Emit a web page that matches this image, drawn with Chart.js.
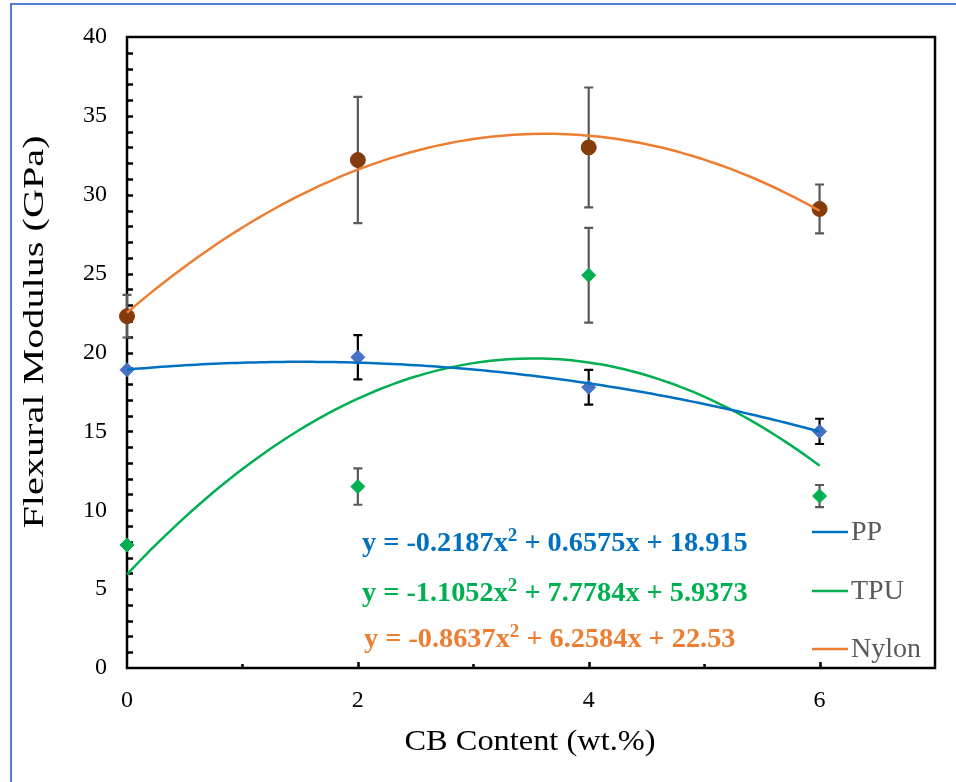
<!DOCTYPE html>
<html>
<head>
<meta charset="utf-8">
<script src="https://cdn.jsdelivr.net/npm/chart.js@4.4.1/dist/chart.umd.min.js"></script>
<style>
  html, body { margin: 0; padding: 0; background: #ffffff; }
  #wrap { position: relative; width: 956px; height: 782px; }
</style>
</head>
<body>
<div id="wrap"><canvas id="chart" width="956" height="782"></canvas></div>
<script>
// CB content (wt.%) at which each material was tested
const cbContent = [0, 2, 4, 6];

// Flexural modulus (GPa) and standard deviations
const ppValues = [18.9, 19.7, 17.8, 15.0];
const ppErrors = [0, 1.4, 1.1, 0.8];
const tpuValues = [7.8, 11.5, 24.9, 10.9];
const tpuErrors = [0, 1.15, 3.0, 0.7];
const nylonValues = [22.3, 32.2, 33.0, 29.1];
const nylonErrors = [1.35, 4.0, 3.8, 1.55];

// Quadratic trend coefficients [a, b, c] for y = a x^2 + b x + c
const ppFit = [-0.2187, 0.6575, 18.915];
const tpuFit = [-1.1052, 7.7784, 5.9373];
const nylonFit = [-0.8637, 6.2584, 22.53];

// Equation labels
const ppEquation = ['y = -0.2187x', '2', ' + 0.6575x + 18.915'];
const tpuEquation = ['y = -1.1052x', '2', ' + 7.7784x + 5.9373'];
const nylonEquation = ['y = -0.8637x', '2', ' + 6.2584x + 22.53'];

const seriesNames = ['PP', 'TPU', 'Nylon'];
const xTitle = 'CB Content (wt.%)';
const yTitle = 'Flexural Modulus (GPa)';

const SERIF = '"Liberation Serif", "Times New Roman", serif';

function points(xs, ys) {
  return xs.map((x, i) => ({ x: x, y: ys[i] }));
}
function trendPoints(coef) {
  const pts = [];
  for (let i = 0; i <= 60; i++) {
    const x = i / 10;
    pts.push({ x: x, y: coef[0] * x * x + coef[1] * x + coef[2] });
  }
  return pts;
}

const markerSets = [
  { label: 'PP pts', data: points(cbContent, ppValues), errors: ppErrors, errColor: '#000000',
    pointStyle: 'rectRot', pointRadius: 7, backgroundColor: '#4472C4', borderColor: '#4472C4' },
  { label: 'TPU pts', data: points(cbContent, tpuValues), errors: tpuErrors, errColor: '#595959',
    pointStyle: 'rectRot', pointRadius: 7, backgroundColor: '#00B050', borderColor: '#00B050' },
  { label: 'Nylon pts', data: points(cbContent, nylonValues), errors: nylonErrors, errColor: '#595959',
    pointStyle: 'circle', pointRadius: 7.5, backgroundColor: '#843C0C', borderColor: '#843C0C' }
];

const trendColors = ['#0070C0', '#00B050', '#ED7D31'];
const trendSets = [ppFit, tpuFit, nylonFit].map((c, i) => ({
  type: 'line',
  label: seriesNames[i],
  data: trendPoints(c),
  borderColor: trendColors[i],
  borderWidth: 2.5,
  pointRadius: 0,
  tension: 0.3,
  fill: false,
  clip: false,
  order: 1
}));

const datasets = markerSets.map(s => Object.assign({
  type: 'scatter', showLine: false, borderWidth: 1, clip: false, order: 2
}, s)).concat(trendSets);

// Error bars, drawn under the markers
const errorBarPlugin = {
  id: 'errorBars',
  beforeDatasetsDraw(chart) {
    const ctx = chart.ctx, xs = chart.scales.x, ys = chart.scales.y;
    ctx.save();
    markerSets.forEach(s => {
      ctx.strokeStyle = s.errColor;
      ctx.lineWidth = 2.2;
      s.data.forEach((p, i) => {
        const e = s.errors[i];
        if (!e) return;
        const px = xs.getPixelForValue(p.x);
        const top = ys.getPixelForValue(p.y + e);
        const bot = ys.getPixelForValue(p.y - e);
        ctx.beginPath();
        ctx.moveTo(px, top); ctx.lineTo(px, bot);
        ctx.moveTo(px - 4.5, top); ctx.lineTo(px + 4.5, top);
        ctx.moveTo(px - 4.5, bot); ctx.lineTo(px + 4.5, bot);
        ctx.stroke();
      });
    });
    ctx.restore();
  }
};

// Plot box and inward ticks go under the data; titles, legend and equations on top
const framePlugin = {
  id: 'frame',
  beforeDatasetsDraw(chart) {
    const ctx = chart.ctx, a = chart.chartArea;
    const xs = chart.scales.x, ys = chart.scales.y;
    ctx.save();
    ctx.strokeStyle = '#000000';
    ctx.lineWidth = 2.5;
    ctx.strokeRect(a.left, a.top, a.right - a.left, a.bottom - a.top);
    ctx.beginPath();
    for (let v = 1; v < 40; v++) {
      const py = Math.round(ys.getPixelForValue(v)) + 0.5;
      ctx.moveTo(a.left, py); ctx.lineTo(a.left + 6, py);
    }
    for (let v = 1; v <= 6; v++) {
      const px = Math.round(xs.getPixelForValue(v)) + 0.5;
      const len = v % 2 === 0 ? 6 : 4;
      ctx.moveTo(px, a.bottom); ctx.lineTo(px, a.bottom - len);
    }
    ctx.stroke();
    ctx.restore();
  }
};

const decorPlugin = {
  id: 'decor',
  afterDraw(chart) {
    const ctx = chart.ctx;
    ctx.save();

    // outer blue frame
    ctx.strokeStyle = '#4F7FD4';
    ctx.lineWidth = 2;
    ctx.beginPath();
    ctx.moveTo(11, 782); ctx.lineTo(11, 4); ctx.lineTo(956, 4);
    ctx.stroke();

    // axis titles
    ctx.fillStyle = '#000000';
    ctx.textAlign = 'center';
    ctx.textBaseline = 'middle';
    ctx.save();
    ctx.translate(530, 742);
    ctx.scale(1.08, 1);
    ctx.font = '30px ' + SERIF;
    ctx.fillText(xTitle, 0, 0);
    ctx.restore();
    ctx.save();
    ctx.translate(35, 332);
    ctx.rotate(-Math.PI / 2);
    ctx.scale(1.34, 1);
    ctx.font = '30px ' + SERIF;
    ctx.fillText(yTitle, 0, 0);
    ctx.restore();

    // legend
    const legendY = [532, 591, 649];
    ctx.font = '28px ' + SERIF;
    ctx.textAlign = 'left';
    ctx.textBaseline = 'middle';
    seriesNames.forEach((n, i) => {
      ctx.strokeStyle = trendColors[i];
      ctx.lineWidth = 2.5;
      ctx.beginPath();
      ctx.moveTo(812, legendY[i]); ctx.lineTo(848, legendY[i]);
      ctx.stroke();
      ctx.fillStyle = '#595959';
      ctx.fillText(n, 851, legendY[i] + 1);
    });

    // trend equations
    const eqs = [ppEquation, tpuEquation, nylonEquation];
    const eqY = [542, 592, 638];
    const eqX = [362, 362, 364];
    eqs.forEach((eq, i) => {
      ctx.fillStyle = trendColors[i];
      ctx.textBaseline = 'alphabetic';
      let x = eqX[i];
      const base = eqY[i] + 9;
      ctx.font = 'bold 28.3px ' + SERIF;
      ctx.fillText(eq[0], x, base);
      x += ctx.measureText(eq[0]).width;
      ctx.font = 'bold 19px ' + SERIF;
      ctx.fillText(eq[1], x, base - 10);
      x += ctx.measureText(eq[1]).width;
      ctx.font = 'bold 28.3px ' + SERIF;
      ctx.fillText(eq[2], x, base);
    });

    ctx.restore();
  }
};

new Chart(document.getElementById('chart'), {
  type: 'scatter',
  data: { datasets: datasets },
  options: {
    responsive: false,
    animation: false,
    devicePixelRatio: 1,
    layout: { padding: { left: 0, top: 37, right: 21, bottom: 0 } },
    plugins: {
      legend: { display: false },
      tooltip: { enabled: false }
    },
    scales: {
      x: {
        type: 'linear', min: 0, max: 7,
        grid: { display: false, drawTicks: false },
        border: { display: false },
        afterFit(scale) { scale.height = 114; },
        ticks: {
          stepSize: 1,
          padding: 18,
          color: '#000000',
          font: { family: SERIF, size: 24 },
          callback: v => (v % 2 === 0 && v <= 6 ? String(v) : '')
        }
      },
      y: {
        type: 'linear', min: 0, max: 40,
        grid: { display: false, drawTicks: false },
        border: { display: false },
        afterFit(scale) { scale.width = 127; },
        ticks: {
          stepSize: 5,
          padding: 20,
          color: '#000000',
          font: { family: SERIF, size: 24 }
        }
      }
    }
  },
  plugins: [framePlugin, errorBarPlugin, decorPlugin]
});
</script>
</body>
</html>
